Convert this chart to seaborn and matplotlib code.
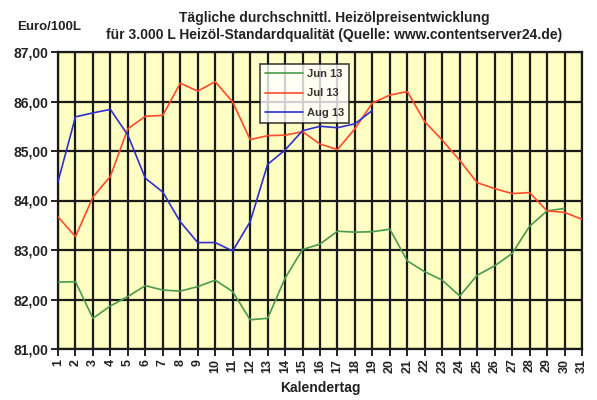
import numpy as np
import pandas as pd
import matplotlib
matplotlib.use("Agg")
import matplotlib.pyplot as plt
import seaborn as sns

days = list(range(1, 32))

jun13 = [82.35, 82.36, 81.62, 81.87, 82.06, 82.28, 82.19, 82.17, 82.26, 82.39,
         82.16, 81.59, 81.62, 82.43, 83.01, 83.12, 83.38, 83.36, 83.37, 83.42,
         82.78, 82.56, 82.39, 82.07, 82.49, 82.68, 82.93, 83.48, 83.79, 83.84]
jul13 = [83.67, 83.27, 84.07, 84.49, 85.45, 85.70, 85.72, 86.37, 86.21, 86.40,
         85.99, 85.23, 85.31, 85.32, 85.39, 85.14, 85.03, 85.45, 85.97, 86.13,
         86.20, 85.59, 85.22, 84.81, 84.36, 84.24, 84.14, 84.16, 83.79, 83.76,
         83.62]
aug13 = [84.38, 85.69, 85.77, 85.84, 85.32, 84.45, 84.17, 83.57, 83.15, 83.15,
         82.98, 83.57, 84.73, 85.02, 85.41, 85.50, 85.47, 85.55, 85.82]

series_names = ["Jun 13", "Jul 13", "Aug 13"]
series_values = [jun13, jul13, aug13]
colors = ["#4a9a4a", "#ff4a2a", "#2f2fd0"]

y_ticks = [81, 82, 83, 84, 85, 86, 87]
y_labels = ["81,00", "82,00", "83,00", "84,00", "85,00", "86,00", "87,00"]

title = ("Tägliche durchschnittl. Heizölpreisentwicklung\n"
         "für 3.000 L Heizöl-Standardqualität (Quelle: www.contentserver24.de)")
ylabel = "Euro/100L"
xlabel = "Kalendertag"

rows = []
for name, vals in zip(series_names, series_values):
    for d, v in zip(days, vals):
        rows.append({"Tag": d, "Preis": v, "Serie": name})
df = pd.DataFrame(rows)

sns.set_style("white")
plt.rcParams["font.family"] = ["Liberation Sans", "DejaVu Sans"]

fig = plt.figure(figsize=(5.97, 4.0), dpi=100)
ax = fig.add_axes([58 / 597, 1 - 349 / 400, 524 / 597, 297 / 400])
ax.set_facecolor("#ffffc4")

sns.lineplot(data=df, x="Tag", y="Preis", hue="Serie", hue_order=series_names,
             palette=colors, linewidth=1.2, ax=ax, legend=True, zorder=3)

ax.set_xlim(1, 31)
ax.set_ylim(81, 87)
ax.set_xticks(days)
ax.set_xticklabels([str(d) for d in days], rotation=90, fontweight="bold",
                   fontsize=9, color="#222222")
ax.set_yticks(y_ticks)
ax.set_yticklabels(y_labels, fontweight="bold", fontsize=10, color="#222222")
ax.tick_params(axis="both", direction="out", length=5, width=1.4,
               color="#222222", pad=2, bottom=True, left=True)
ax.grid(True, color="#1a1a1a", linewidth=1.6, zorder=1)
ax.set_axisbelow(True)
for s in ax.spines.values():
    s.set_color("#1a1a1a")
    s.set_linewidth(1.6)
    s.set_visible(True)

ax.set_xlabel(xlabel, fontweight="bold", fontsize=10, color="#222222", labelpad=6)
ax.set_ylabel("")

fig.text(334 / 597, 1 - 26.5 / 400, title, ha="center", va="center",
         fontweight="bold", fontsize=10, color="#222222", linespacing=1.3)
fig.text(17 / 597, 1 - 27 / 400, ylabel, ha="left", va="center",
         fontweight="bold", fontsize=9.5, color="#222222")

leg = ax.legend(loc="upper left", bbox_to_anchor=((260 - 58) / 524, (349 - 64) / 297),
                borderaxespad=0, frameon=True, fancybox=False, edgecolor="#111111",
                facecolor="white", prop={"size": 8, "weight": "bold"},
                handlelength=3.4, borderpad=0.45, labelspacing=0.85,
                handletextpad=0.35)
leg.get_frame().set_linewidth(1.2)
for t in leg.get_texts():
    t.set_color("#333333")
leg.set_zorder(5)

fig.savefig("out.png", dpi=100, facecolor="white")
